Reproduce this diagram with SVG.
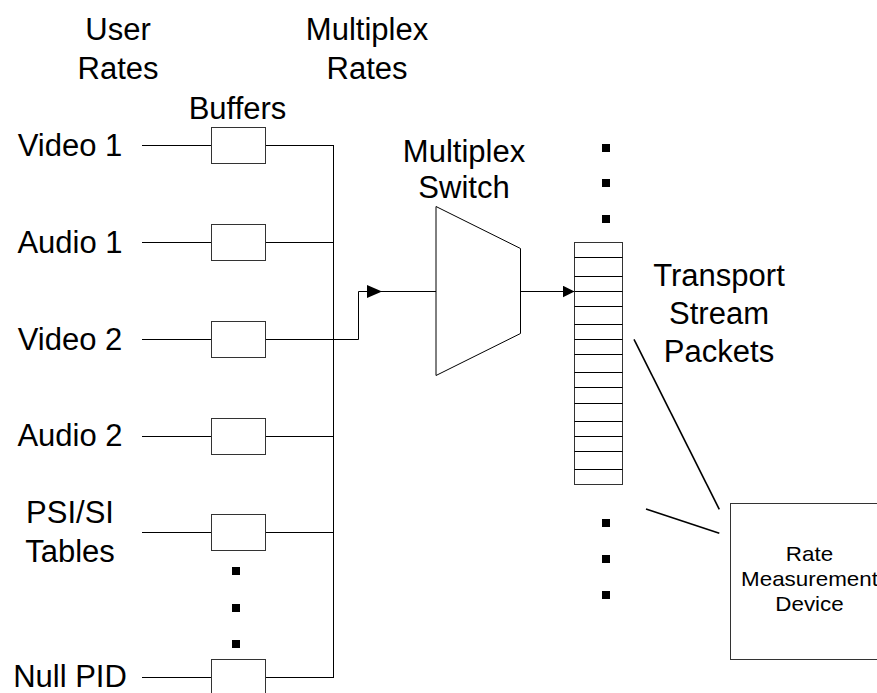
<svg xmlns="http://www.w3.org/2000/svg" width="877" height="693" viewBox="0 0 877 693">
<style>
text{font-family:"Liberation Sans",Arial,sans-serif;font-size:31px;fill:#000;text-anchor:middle}
.box{fill:#fff;stroke:#333;stroke-width:1}
.ln{fill:none;stroke:#000;stroke-width:1}
.dg{fill:none;stroke:#000;stroke-width:1.6}
.dot{fill:#000}
.sm{font-size:20px}
</style>
<defs>
<marker id="arr" markerUnits="userSpaceOnUse" markerWidth="15" markerHeight="13" refX="15" refY="6.5" orient="auto">
<path d="M0,0 L15,6.5 L0,13 Z" fill="#000"/>
</marker>
<marker id="arr2" markerUnits="userSpaceOnUse" markerWidth="12" markerHeight="12" refX="12" refY="6" orient="auto">
<path d="M0,0 L12,6 L0,12 Z" fill="#000"/>
</marker>
</defs>
<rect width="877" height="693" fill="#fff"/>

<g id="headers">
<text x="118" y="40">User</text>
<text x="118" y="79">Rates</text>
<text x="367" y="40">Multiplex</text>
<text x="367" y="79">Rates</text>
<text x="237.5" y="119">Buffers</text>
</g>

<g id="connectors">
<path class="ln" d="M142,145.5H211.5M265.5,145.5H333.5"/>
<path class="ln" d="M142,242.5H211.5M265.5,242.5H333.5"/>
<path class="ln" d="M142,339.5H211.5M265.5,339.5H358.5V291.5H382" marker-end="url(#arr)"/>
<path class="ln" d="M381,291.5H436"/>
<path class="ln" d="M142,436.5H211.5M265.5,436.5H333.5"/>
<path class="ln" d="M142,532.5H211.5M265.5,532.5H333.5"/>
<path class="ln" d="M142,677.5H211.5M265.5,677.5H333.5"/>
<path class="ln" d="M333.5,145V678"/>
<path class="ln" d="M520.5,291.5H574.5" marker-end="url(#arr2)"/>
<path class="dg" d="M634,339.3L719.3,509.3"/>
<path class="dg" d="M646,509L719.3,533.3"/>
</g>

<g id="video1">
<text x="70" y="156">Video 1</text>
<rect class="box" x="211.5" y="127.5" width="54" height="36"/>
</g>
<g id="audio1">
<text x="70" y="253">Audio 1</text>
<rect class="box" x="211.5" y="224.5" width="54" height="36"/>
</g>
<g id="video2">
<text x="70" y="350">Video 2</text>
<rect class="box" x="211.5" y="321.5" width="54" height="36"/>
</g>
<g id="audio2">
<text x="70" y="446">Audio 2</text>
<rect class="box" x="211.5" y="418.5" width="54" height="36"/>
</g>
<g id="psisi">
<text x="70" y="523">PSI/SI</text>
<text x="70" y="562">Tables</text>
<rect class="box" x="211.5" y="514.5" width="54" height="36"/>
</g>
<g id="nullpid">
<text x="70" y="687">Null PID</text>
<rect class="box" x="211.5" y="659.5" width="54" height="40"/>
</g>
<g id="input-dots">
<rect class="dot" x="232" y="567" width="8" height="8"/>
<rect class="dot" x="232" y="604" width="8" height="8"/>
<rect class="dot" x="232" y="640" width="8" height="8"/>
</g>

<g id="switch">
<text x="464" y="162">Multiplex</text>
<text x="464" y="198">Switch</text>
<path class="ln" d="M436,206.5L520.5,248.5V333.5L436,375.5Z" fill="#fff"/>
</g>

<g id="stack">
<rect class="box" x="574.5" y="242.5" width="48" height="242" stroke="#000"/>
<path class="ln" d="M574.5,257.5H622.5M574.5,276.5H622.5M574.5,291.5H622.5M574.5,306.5H622.5M574.5,324.5H622.5M574.5,339.5H622.5M574.5,354.5H622.5M574.5,372.5H622.5M574.5,387.5H622.5M574.5,403.5H622.5M574.5,421.5H622.5M574.5,436.5H622.5M574.5,451.5H622.5M574.5,469.5H622.5"/>
<rect class="dot" x="602" y="144" width="8" height="8"/>
<rect class="dot" x="602" y="179" width="8" height="8"/>
<rect class="dot" x="602" y="215" width="8" height="8"/>
<rect class="dot" x="602" y="519" width="8" height="8"/>
<rect class="dot" x="602" y="555" width="8" height="8"/>
<rect class="dot" x="602" y="591" width="8" height="8"/>
<text x="719" y="286">Transport</text>
<text x="719" y="324">Stream</text>
<text x="719" y="362">Packets</text>
</g>

<g id="rmd">
<rect class="box" x="730.5" y="503.5" width="160" height="156" stroke="#555"/>
<g transform="translate(809.5,0) scale(1.12,1)">
<text class="sm" x="0" y="561">Rate</text>
<text class="sm" x="0" y="586">Measurement</text>
<text class="sm" x="0" y="611">Device</text>
</g>
</g>
</svg>
